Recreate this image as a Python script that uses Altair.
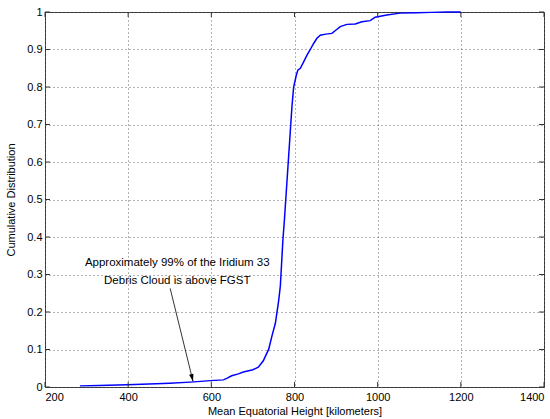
import altair as alt
import pandas as pd

heights = [284, 330, 397, 450, 500, 549, 575, 597, 629, 637, 649, 665, 677, 700, 713,
           725, 738, 746, 754, 762, 766, 772, 776, 782, 788, 794, 798, 804, 808, 814,
           822, 830, 838, 846, 854, 862, 875, 890, 900, 910, 926, 946, 962, 982, 994,
           1022, 1054, 1094, 1130, 1167, 1200]
cdf = [0.003, 0.004, 0.006, 0.008, 0.010, 0.013, 0.015, 0.017, 0.019, 0.023, 0.030,
       0.035, 0.040, 0.046, 0.053, 0.070, 0.101, 0.137, 0.170, 0.231, 0.27, 0.39, 0.45,
       0.55, 0.65, 0.75, 0.80, 0.83, 0.845, 0.85, 0.867, 0.885, 0.90, 0.916, 0.93, 0.938,
       0.941, 0.943, 0.952, 0.961, 0.967, 0.968, 0.974, 0.977, 0.986, 0.992, 0.997, 0.998,
       0.999, 1.0, 1.0]

x_ticks = [200, 400, 600, 800, 1000, 1200, 1400]
y_ticks = [0, 0.1, 0.2, 0.3, 0.4, 0.5, 0.6, 0.7, 0.8, 0.9, 1]

note_lines = ["Approximately 99% of the Iridium 33", "Debris Cloud is above FGST"]
note_x = [518, 518]
note_y = [0.330, 0.284]
arrow_from = (501, 0.263)
arrow_to = (556, 0.015)

FONT = "Liberation Sans"

curve = pd.DataFrame({"h": heights, "p": cdf})
xs = alt.Scale(domain=[200, 1400], nice=False, zero=False)
ys = alt.Scale(domain=[0, 1], nice=False)

x_axis = alt.Axis(values=x_ticks, format="d", title="Mean Equatorial Height [kilometers]",
                  grid=True, gridDash=[1, 3], gridColor="#666", tickSize=0,
                  labelOverlap=False,
                  labelFont=FONT, labelFontSize=11, labelColor="#000", labelPadding=4,
                  titleFont=FONT, titleFontSize=11, titleFontWeight="normal",
                  titleColor="#000", titlePadding=3, domain=False)
y_axis = alt.Axis(tickCount=len(y_ticks) - 1, labelExpr="format(datum.value, '~g')",
                  title="Cumulative Distribution",
                  grid=True, gridDash=[1, 3], gridColor="#666", tickSize=0,
                  labelOverlap=False, labelSeparation=0,
                  labelFont=FONT, labelFontSize=11, labelColor="#000", labelPadding=3,
                  titleFont=FONT, titleFontSize=11, titleFontWeight="normal",
                  titleColor="#000", titlePadding=10, domain=False)


def X(field):
    return alt.X(field, scale=xs, axis=x_axis)


def Y(field):
    return alt.Y(field, scale=ys, axis=y_axis)


line = alt.Chart(curve).mark_line(color="#0000ff", strokeWidth=1.5).encode(
    x=X("h:Q"), y=Y("p:Q"))

# inside tick marks (MATLAB style)
tx = pd.DataFrame({"v": x_ticks})
ty = pd.DataFrame({"v": y_ticks})
tick_len_y = 0.0134
tick_len_x = 12
bt = alt.Chart(tx).mark_rule(color="#333").encode(
    x=X("v:Q"), y=alt.datum(0), y2=alt.datum(tick_len_y))
tt = alt.Chart(tx).mark_rule(color="#333").encode(
    x=X("v:Q"), y=alt.datum(1), y2=alt.datum(1 - tick_len_y))
lt = alt.Chart(ty).mark_rule(color="#333").encode(
    y=Y("v:Q"), x=alt.datum(200), x2=alt.datum(200 + tick_len_x))
rt = alt.Chart(ty).mark_rule(color="#333").encode(
    y=Y("v:Q"), x=alt.datum(1400), x2=alt.datum(1400 - tick_len_x))

notes = pd.DataFrame({"t": note_lines, "x": note_x, "y": note_y})
text = alt.Chart(notes).mark_text(font=FONT, fontSize=11.5, color="#000",
                                  align="center", baseline="middle").encode(
    x=X("x:Q"), y=Y("y:Q"), text="t:N")

arr = pd.DataFrame({"x": [arrow_from[0]], "y": [arrow_from[1]],
                    "x2": [arrow_to[0]], "y2": [arrow_to[1]]})
arrow_line = alt.Chart(arr).mark_rule(color="#000", strokeWidth=0.8).encode(
    x=X("x:Q"), y=Y("y:Q"), x2="x2:Q", y2="y2:Q")
head = pd.DataFrame({"x": [arrow_to[0]], "y": [arrow_to[1]]})
arrow_head = alt.Chart(head).mark_point(
    shape="M0,0L0.05,-1.04L-0.53,-0.9Z", filled=True, color="#000", size=220, opacity=1
).encode(x=X("x:Q"), y=Y("y:Q"))

chart = alt.layer(line, bt, tt, lt, rt, arrow_line, arrow_head, text).properties(
    width=499, height=375,
    padding={"left": 45, "top": 12, "right": 6, "bottom": 32},
    autosize="none",
    background="white",
).configure_view(stroke="#333", strokeWidth=1)

chart.save("out.html", embed_options={"renderer": "svg", "actions": False})
